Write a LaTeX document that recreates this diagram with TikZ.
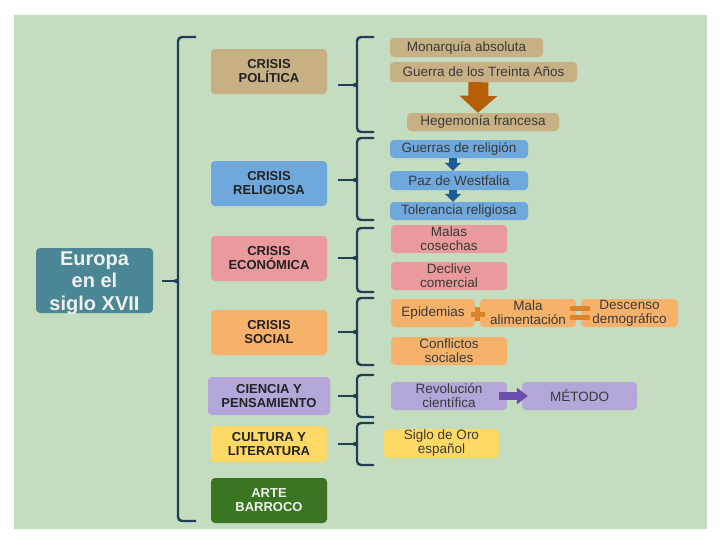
\documentclass[tikz,border=0pt]{standalone}
\usepackage{fontspec}
\setmainfont{Liberation Sans}
\usetikzlibrary{arrows.meta,calc}
\definecolor{bgcol}{HTML}{C4DCBF}
\definecolor{teal}{HTML}{4A8694}
\definecolor{tan}{HTML}{C8B085}
\definecolor{blu}{HTML}{6FA8DC}
\definecolor{pink}{HTML}{EA9A9C}
\definecolor{orng}{HTML}{F6B26B}
\definecolor{purp}{HTML}{B4A6D8}
\definecolor{yell}{HTML}{FFD966}
\definecolor{dgreen}{HTML}{3A7622}
\definecolor{brk}{HTML}{1E3F56}
\definecolor{arrbrown}{HTML}{B45F06}
\definecolor{arrblue}{HTML}{1F5A96}
\definecolor{arrpurp}{HTML}{6A4FB0}
\definecolor{opcol}{HTML}{DC8428}
\definecolor{cattext}{HTML}{222222}
\definecolor{subtext}{HTML}{3A3A3A}
\newcommand{\bracefig}[6]{% name, x, top, cusp, bottom, hook length
  \coordinate (#1) at (#2,#4);
  \draw[brace] (#2+#6,#3) -- (#2,#3) -- (#2,#4-5) .. controls (#2,#4-2) and (#2-1,#4) .. (#2-4,#4);
  \draw[brace] (#2+#6,#5) -- (#2,#5) -- (#2,#4+5) .. controls (#2,#4+2) and (#2-1,#4) .. (#2-4,#4);}
\begin{document}
\begin{tikzpicture}[x=1pt,y=-1pt,
  box/.style={rounded corners=4pt, inner sep=0pt, align=center},
  cat/.style={box, font=\fontsize{13}{14}\selectfont\bfseries, text=cattext, minimum width=116pt, minimum height=45pt},
  subitem/.style={box, font=\fontsize{13.5}{14}\selectfont, text=subtext},
  brace/.style={draw=brk, line width=2.4pt, rounded corners=4pt},
  link/.style={draw=brk, line width=2.4pt},
  bigarrow/.style={draw=arrbrown, line width=20pt, -{Triangle[width=37pt,length=17pt]}},
  bluearrow/.style={draw=arrblue, line width=8pt, -{Triangle[width=16pt,length=8pt]}},
  purparrow/.style={draw=arrpurp, line width=8pt, -{Triangle[width=16pt,length=11pt]}},
  opsign/.style={draw=opcol, line width=5pt}
]
\useasboundingbox (0,0) rectangle (728,546);
\fill[bgcol] (14,15) rectangle (707,529);

% main node
\node[box, fill=teal, minimum width=117pt, minimum height=65pt] (EU) at (94.5,280.5) {};
\node[align=center, inner sep=0pt, text=white!94!black, font=\fontsize{20}{22.5}\selectfont\bfseries]
      (EUtext) at ($(EU.center)+(0,2.5)$) {Europa\\en el\\siglo XVII};

% categories
\node[cat, fill=tan] (POL) at (269,71.5) {CRISIS\\POLÍTICA};
\node[cat, fill=blu] (REL) at (269,183.5) {CRISIS\\RELIGIOSA};
\node[cat, fill=pink] (ECO) at (269,258.5) {CRISIS\\ECONÓMICA};
\node[cat, fill=orng] (SOC) at (269,332.5) {CRISIS\\SOCIAL};
\node[cat, fill=purp, minimum width=122pt, minimum height=38pt] (CIE) at (269,396) {CIENCIA Y\\PENSAMIENTO};
\node[cat, fill=yell, minimum height=36pt] (CUL) at (269,444) {CULTURA Y\\LITERATURA};
\node[cat, fill=dgreen, text=white!94!black] (ART) at (269,500.5) {ARTE\\BARROCO};

% main brace
\bracefig{maincusp}{178}{37}{281}{521}{18}
\draw[link] ($(EU.east |- maincusp)+(9,0)$) -- (maincusp);

% sub braces
\bracefig{polcusp}{357}{37}{85}{132}{17}
\bracefig{relcusp}{357}{138}{180}{220}{17}
\bracefig{ecocusp}{357}{228}{258}{292}{17}
\bracefig{soccusp}{357}{298}{332}{365}{17}
\bracefig{ciecusp}{357}{375}{396}{417}{17}
\bracefig{culcusp}{357}{423}{444}{465}{17}
\draw[link] ($(POL.east |- polcusp)+(11,0)$) -- (polcusp);
\draw[link] ($(REL.east |- relcusp)+(11,0)$) -- (relcusp);
\draw[link] ($(ECO.east |- ecocusp)+(11,0)$) -- (ecocusp);
\draw[link] ($(SOC.east |- soccusp)+(11,0)$) -- (soccusp);
\draw[link] ($(CIE.east |- ciecusp)+(8,0)$) -- (ciecusp);
\draw[link] ($(CUL.east |- culcusp)+(11,0)$) -- (culcusp);

% political items
\node[subitem, fill=tan, minimum width=153pt, minimum height=19pt] (m1) at (466.5,47.5) {Monarquía absoluta};
\node[subitem, fill=tan, minimum width=187pt, minimum height=20pt] (m2) at (483.5,72) {Guerra de los Treinta Años};
\node[subitem, fill=tan, minimum width=152pt, minimum height=18pt] (m3) at (483,122) {Hegemonía francesa};
\draw[bigarrow] ($(m2.south)+(-5,0)$) -- ($(m3.north)+(-5,0)$);

% religious items
\node[subitem, fill=blu, minimum width=138pt, minimum height=18pt] (r1) at (459,149) {Guerras de religión};
\node[subitem, fill=blu, minimum width=138pt, minimum height=19pt] (r2) at (459,180.5) {Paz de Westfalia};
\node[subitem, fill=blu, minimum width=138pt, minimum height=18pt] (r3) at (459,211) {Tolerancia religiosa};
\draw[bluearrow] ($(r1.south)+(-6,0)$) -- ($(r2.north)+(-6,0)$);
\draw[bluearrow] ($(r2.south)+(-6,0)$) -- ($(r3.north)+(-6,0)$);

% economic items
\node[subitem, fill=pink, minimum width=116pt, minimum height=28pt] (e1) at (449,239) {Malas\\cosechas};
\node[subitem, fill=pink, minimum width=116pt, minimum height=28pt] (e2) at (449,276) {Declive\\comercial};

% social items
\node[subitem, fill=orng, minimum width=84pt, minimum height=28pt] (s1) at (433,313) {Epidemias};
\node[subitem, fill=orng, minimum width=96pt, minimum height=28pt] (s2) at (528,313) {Mala\\alimentación};
\node[subitem, fill=orng, minimum width=97pt, minimum height=28pt] (s3) at (629.5,313) {Descenso\\demográfico};
\node[subitem, fill=orng, minimum width=116pt, minimum height=28pt] (s4) at (449,351) {Conflictos\\sociales};
\coordinate (plus) at ($(s1.east)!0.5!(s2.west)+(0,1)$);
\draw[opsign] ($(plus)+(-7,0)$) -- ($(plus)+(7,0)$) ($(plus)+(0,-7)$) -- ($(plus)+(0,7)$);
\coordinate (equal) at ($(s2.east)!0.5!(s3.west)+(1,0)$);
\draw[opsign] ($(equal)+(-10,-4.5)$) -- ($(equal)+(10,-4.5)$) ($(equal)+(-10,4.5)$) -- ($(equal)+(10,4.5)$);

% science items
\node[subitem, fill=purp, minimum width=116pt, minimum height=28pt] (c1) at (449,396) {Revolución\\científica};
\node[subitem, fill=purp, minimum width=115pt, minimum height=28pt] (c2) at (579.5,396) {MÉTODO};
\draw[purparrow] ($(c1.east)+(-8,0)$) -- ($(c2.west)+(6,0)$);

% culture items
\node[subitem, fill=yell, minimum width=115pt, minimum height=29pt] (l1) at (441.5,443.5) {Siglo de Oro\\español};
\end{tikzpicture}
\end{document}
